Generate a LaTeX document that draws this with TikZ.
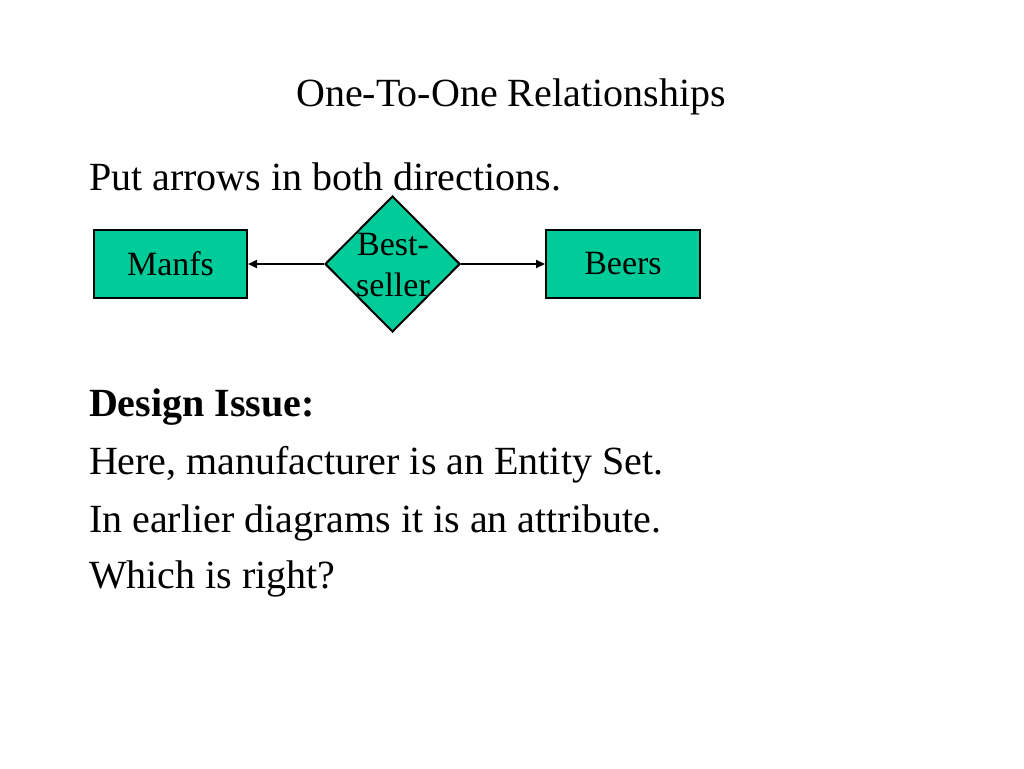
\documentclass[tikz,border=0pt]{standalone}
\usepackage{fontspec}
\setmainfont{Liberation Serif}
\usetikzlibrary{arrows.meta,
shapes.geometric,
positioning}
\definecolor{erteal}{RGB}{0,204,153}

\begin{document}
\begin{tikzpicture} [x = 1pt, y = -1pt,
  >={Triangle[width = 8pt, length = 9pt]},
  line width = 2pt,
  bigtext/.style={font = \fontsize{40}{48}\selectfont, inner sep = 0},
  entity node/.style={rectangle, fill = erteal, draw,
      minimum height = 68pt, inner sep = 0,
      font = \fontsize{34}{41}\selectfont},
  rel node/.style={diamond, fill = erteal, draw,
      minimum width = 135pt, minimum height = 136pt, inner sep = 0}]

  \useasboundingbox (0,0) rectangle (1024,768);

  \node [bigtext, anchor = base] (title) at (511,106) {One-To-One Relationships};
  \node [bigtext, anchor = base west] (intro) at (88,190) {Put arrows in both directions.};

  \node [entity node, minimum width = 153pt] (manfs) at (170.5,264) {Manfs};
  \node [rel node] (best) at (392.5,264) {};
  \node [entity node, minimum width = 154pt] (beers) at (623,264) {Beers};

  \node [align = center, inner sep = 0, anchor = base,
    font = \fontsize{34}{41}\selectfont
  ] (bestlbl) at (393,296) {Best-\\seller};

  \draw [->] (best.west) -- (manfs.east);
  \draw [->] (best.east) -- (beers.west);

  % text below the diagram
  \node [bigtext, anchor = base west, font = \fontsize{40}{48}\selectfont\bfseries] (issue) at (88,416) {Design Issue:};
  \node [bigtext, anchor = base west] (here) at (88,474) {Here, manufacturer is an Entity Set.};
  \node [bigtext, anchor = base west] (earlier) at (88,532) {In earlier diagrams it is an attribute.};
  \node [bigtext, anchor = base west] (which) at (88,588) {Which is right?};

\end{tikzpicture}
\end{document}
